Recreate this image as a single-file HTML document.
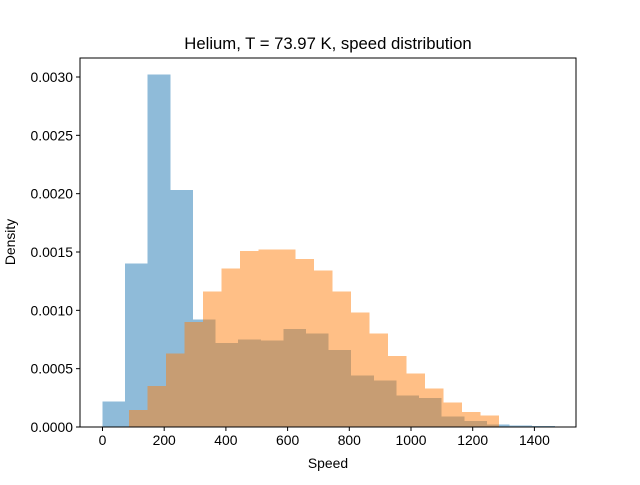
<!DOCTYPE html>
<html><head><meta charset="utf-8"><style>
body{margin:0;background:#fff}
text{font-family:"Liberation Sans","DejaVu Sans",sans-serif;fill:#000}
</style></head><body>
<svg id="chart" width="640" height="480" xmlns="http://www.w3.org/2000/svg">
<rect width="640" height="480" fill="#fff"/>
<g id="bars" shape-rendering="crispEdges"></g>
<g id="axes"></g>
<text x="328" y="49" text-anchor="middle" font-size="16.7">Helium, T = 73.97 K, speed distribution</text>
<text x="328" y="468" text-anchor="middle" font-size="13.9">Speed</text>
<text transform="translate(15,242) rotate(-90)" text-anchor="middle" font-size="13.9">Density</text>
</svg>
<script>
const blueStart = 0;
const blueWidth = 73.3;
const blueValues = [0.00022,0.0014,0.00302,0.00203,0.00092,0.00072,0.00075,0.00074,0.00084,0.0008,0.00066,0.00044,0.0004,0.00027,0.00025,0.00009,0.00005,0.00002,0.000015,0.00001];
const orangeStart = 86;
const orangeWidth = 60;
const orangeValues = [0.000146,0.00035,0.00063,0.0009,0.00116,0.00136,0.00151,0.00152,0.00152,0.00144,0.00134,0.00116,0.00098,0.0008,0.00061,0.00046,0.00033,0.00021,0.00013,0.0001];
const xTicks = [0,200,400,600,800,1000,1200,1400];
const yTicks = [0,0.0005,0.001,0.0015,0.002,0.0025,0.003];
const yTickLabels = ["0.0000","0.0005","0.0010","0.0015","0.0020","0.0025","0.0030"];

const L=80,R=576,T=58,B=427;
const xs=v=>102.5+v*(61.7/200);
const ys=v=>B-v*(350/0.003);
const NS="http://www.w3.org/2000/svg";
const bars=document.getElementById('bars');
function drawSeries(start,w,vals,color,name){
  vals.forEach((v,i)=>{
    const r=document.createElementNS(NS,'rect');
    const x0=xs(start+i*w),x1=xs(start+(i+1)*w);
    r.setAttribute('x',x0);r.setAttribute('width',x1-x0);
    r.setAttribute('y',ys(v));r.setAttribute('height',B-ys(v));
    r.setAttribute('fill',color);r.setAttribute('fill-opacity','0.5');
    
    
    bars.appendChild(r);
  });
}
drawSeries(blueStart,blueWidth,blueValues,'#1f77b4','helium-simulated');
drawSeries(orangeStart,orangeWidth,orangeValues,'#ff7f0e','helium-theory');
const ax=document.getElementById('axes');
let h='<rect x="'+L+'" y="'+T+'" width="'+(R-L)+'" height="'+(B-T)+'" fill="none" stroke="#000" stroke-width="1"/>';
xTicks.forEach(t=>{const x=xs(t);h+='<line x1="'+x+'" x2="'+x+'" y1="'+B+'" y2="'+(B+4)+'" stroke="#000"/><text x="'+x+'" y="'+(B+18)+'" text-anchor="middle" font-size="13.9">'+t+'</text>';});
yTicks.forEach((t,i)=>{const y=ys(t);h+='<line x1="'+(L-4)+'" x2="'+L+'" y1="'+y+'" y2="'+y+'" stroke="#000"/><text x="'+(L-7)+'" y="'+(y+5)+'" text-anchor="end" font-size="13.9">'+yTickLabels[i]+'</text>';});
ax.innerHTML=h;


</script>
</body></html>
